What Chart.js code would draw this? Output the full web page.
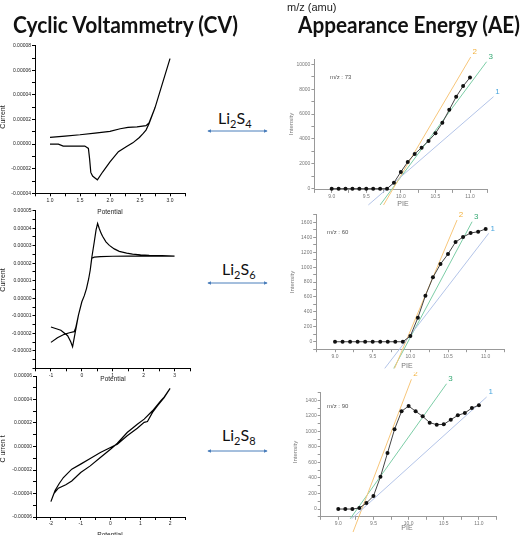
<!DOCTYPE html>
<html>
<head>
<meta charset="utf-8">
<script src="https://cdn.jsdelivr.net/npm/chart.js@4.4.0/dist/chart.umd.min.js"></script>
<style>
  body { margin: 0; background: #fff; }
  #page { position: relative; width: 525px; height: 535px; overflow: hidden; background: #fff;
          font-family: "Liberation Sans", Arial, sans-serif; }
  canvas { position: absolute; }
  .t { position: absolute; white-space: nowrap; line-height: 1; }
  .head { font-family: Lato, "Open Sans", sans-serif; font-weight: bold; font-size: 22px; color: #111;
          transform-origin: left top; }
  .li { font-family: Lato, "Open Sans", sans-serif; font-size: 16px; color: #111; }
  .li sub { font-size: 11px; vertical-align: -4px; line-height: 0; }
  .ax { font-size: 6.5px; color: #222; transform: translate(-50%, -50%); }
  .rot { transform: translate(-50%, -50%) rotate(-90deg); }
  .ae { color: #777; font-size: 6px; }
  .mz { font-size: 6px; color: #555; }
</style>
</head>
<body>
<div id="page">
  <canvas id="cv4"></canvas>
  <canvas id="cv6"></canvas>
  <canvas id="cv8"></canvas>
  <canvas id="ae73"></canvas>
  <canvas id="ae60"></canvas>
  <canvas id="ae90"></canvas>

  <div class="t head" id="h1" style="left:13px; top:14px;">Cyclic Voltammetry (CV)</div>
  <div class="t" style="left:287px; top:2px; font-size:11px; color:#222;">m/z (amu)</div>
  <div class="t head" id="h2" style="left:298px; top:14px;">Appearance Energy (AE)</div>

  <div class="t li" style="left:218px; top:110px;">Li<sub>2</sub>S<sub>4</sub></div>
  <div class="t li" style="left:222px; top:261px;">Li<sub>2</sub>S<sub>6</sub></div>
  <div class="t li" style="left:222px; top:427px;">Li<sub>2</sub>S<sub>8</sub></div>

  <svg style="position:absolute; left:0; top:0;" width="525" height="535">
    <defs>
      <marker id="ah" viewBox="0 0 6 6" refX="5" refY="3" markerWidth="4" markerHeight="4" orient="auto-start-reverse">
        <path d="M0,0 L6,3 L0,6 z" fill="#4a7ebb"></path>
      </marker>
    </defs>
    <line x1="208" y1="131" x2="267" y2="131" stroke="#4a7ebb" stroke-width="1" marker-start="url(#ah)" marker-end="url(#ah)"></line>
    <line x1="208" y1="283" x2="267" y2="283" stroke="#4a7ebb" stroke-width="1" marker-start="url(#ah)" marker-end="url(#ah)"></line>
    <line x1="208" y1="451" x2="267" y2="451" stroke="#4a7ebb" stroke-width="1" marker-start="url(#ah)" marker-end="url(#ah)"></line>
  </svg>

  <!-- axis titles -->
  <div class="t ax rot" style="left:2px; top:117px; font-size:7px;">Current</div>
  <div class="t ax" style="left:110px; top:212px;">Potential</div>
  <div class="t ax rot" style="left:2px; top:280px; font-size:7px;">Current</div>
  <div class="t ax" style="left:113px; top:379px;">Potential</div>
  <div class="t ax rot" style="left:2px; top:449px; font-size:7px;">C urren t</div>
  <div class="t ax" style="left:110px; top:535px;">Potential</div>

  <div class="t ax rot ae" style="left:291px; top:124px;">Intensity</div>
  <div class="t ax ae" style="left:403px; top:203px; font-size:7px;">PIE</div>
  <div class="t ax rot ae" style="left:292px; top:282px;">Intensity</div>
  <div class="t ax ae" style="left:407px; top:365px; font-size:7px;">PIE</div>
  <div class="t ax rot ae" style="left:295px; top:452px;">Intensity</div>
  <div class="t ax ae" style="left:407px; top:527px; font-size:7px;">PIE</div>

  <div class="t mz" style="left:330px; top:74px;">m/z : 73</div>
  <div class="t mz" style="left:327px; top:229px;">m/z : 60</div>
  <div class="t mz" style="left:327px; top:403px;">m/z : 90</div>
</div>

<script>
// ---- CV data (Potential / Current) ----
var cv4Potential = [1.00, 1.25, 1.50, 1.75, 2.00, 2.17, 2.30, 2.45, 2.60, 2.65, 2.75, 2.85, 3.00,
  2.85, 2.75, 2.65, 2.60, 2.55, 2.49, 2.38, 2.27, 2.14, 2.00, 1.88, 1.79, 1.75, 1.71, 1.68, 1.66,
  1.64, 1.58, 1.40, 1.22, 1.14, 1.00];
var cv4Current = [5.4e-6, 6.5e-6, 7.6e-6, 9.0e-6, 1.03e-5, 1.25e-5, 1.36e-5, 1.40e-5, 1.50e-5, 1.72e-5, 2.95e-5, 4.55e-5, 6.95e-5,
  4.55e-5, 2.95e-5, 1.65e-5, 1.14e-5, 8.5e-6, 5.4e-6, 1.0e-6, -2.2e-6, -6.2e-6, -1.44e-5, -2.25e-5, -2.9e-5, -2.75e-5, -2.6e-5, -2.3e-5, -1.2e-5,
  -3.5e-6, -1.6e-6, -1.6e-6, -1.6e-6, 0, 0];

var cv6Potential = [-1.00, -0.68, -0.46, -0.36, -0.30, -0.22, -0.11, 0.00, 0.08, 0.15, 0.22, 0.27, 0.32,
  0.40, 0.46, 0.51, 0.56, 0.62, 0.67, 0.78, 0.89, 1.05, 1.21, 1.45, 1.64, 1.90, 2.18, 2.60, 3.00,
  2.50, 2.00, 1.50, 1.00, 0.60, 0.40, 0.32, 0.27, 0.22, 0.15, 0.08, 0.00, -0.11, -0.20, -0.25,
  -0.40, -0.57, -0.79, -1.00];
var cv6Current = [-1.64e-5, -1.83e-5, -2.14e-5, -2.48e-5, -2.77e-5, -2.0e-5, -9.6e-6, -2.0e-6, 1.5e-6, 5.5e-6, 1.1e-5, 1.6e-5, 2.3e-5,
  3.2e-5, 3.9e-5, 4.27e-5, 4.0e-5, 3.72e-5, 3.54e-5, 3.22e-5, 3.02e-5, 2.82e-5, 2.68e-5, 2.58e-5, 2.52e-5, 2.48e-5, 2.45e-5, 2.43e-5, 2.41e-5,
  2.41e-5, 2.41e-5, 2.41e-5, 2.40e-5, 2.38e-5, 2.35e-5, 2.28e-5, 1.6e-5, 1.1e-5, 5.5e-6, 1.5e-6, -2.0e-6, -9.6e-6, -1.7e-5, -1.91e-5,
  -1.97e-5, -2.06e-5, -2.26e-5, -2.52e-5];

var cv8Potential = [-2.00, -1.86, -1.72, -1.58, -1.30, -1.00, -0.68, -0.34, 0.00, 0.23, 0.56, 0.90, 1.13, 1.24, 1.41, 1.58, 1.80, 2.00,
  1.80, 1.69, 1.41, 1.13, 0.90, 0.56, 0.23, 0.00, -0.34, -0.68, -1.00, -1.30, -1.50, -1.75, -1.90, -2.00];
var cv8Current = [-4.69e-5, -3.75e-5, -3.15e-5, -2.64e-5, -1.93e-5, -1.50e-5, -1.02e-5, -5.1e-6, -9e-7, 2.0e-6, 9.1e-6, 1.56e-5, 2.05e-5, 2.12e-5, 2.90e-5, 3.47e-5, 4.15e-5, 4.94e-5,
  4.20e-5, 3.90e-5, 3.04e-5, 2.33e-5, 1.90e-5, 1.19e-5, 2.8e-6, -2.3e-6, -9.4e-6, -1.65e-5, -2.22e-5, -2.93e-5, -3.25e-5, -3.55e-5, -4.00e-5, -4.69e-5];

// ---- AE data (PIE / Intensity) ----
var pie = [9.0, 9.1, 9.2, 9.3, 9.4, 9.5, 9.6, 9.7, 9.8, 9.9, 10.0, 10.1, 10.2, 10.3, 10.4, 10.5, 10.6, 10.7, 10.8, 10.9, 11.0];
var ae73 = [0, 0, 0, 0, 0, 0, 0, 0, 0, 480, 1350, 2150, 2790, 3300, 3840, 4450, 5300, 6340, 7390, 8250, 8940];
var ae60 = [0, 0, 0, 0, 0, 0, 0, 0, 0, 0, 76, 322, 617, 863, 1041, 1175, 1336, 1403, 1457, 1475, 1511];
var ae90 = [0, 0, 0, 13, 77, 167, 416, 721, 1026, 1258, 1326, 1258, 1193, 1112, 1086, 1090, 1150, 1206, 1236, 1300, 1335];

// fit lines 1, 2, 3 : start / end
var fitNames = ["1", "2", "3"];
var fit73X = [[9.53, 11.34], [9.75, 11.01], [9.70, 11.24]];
var fit73Y = [[-1311, 7398], [-1311, 10591], [-1311, 10213]];
var fit60X = [[9.66, 11.04], [9.79, 10.62], [9.78, 10.82]];
var fit60Y = [[-357, 1453], [-357, 1631], [-357, 1609]];
var fit90X = [[9.19, 11.11], [9.21, 10.04], [9.17, 10.54]];
var fit90Y = [[-125, 1442], [-296, 1670], [-125, 1613]];

var fitLineColors = ["#b3c4e8", "#f7c67a", "#7ccda6"];
var fitTextColors = ["#4aa6dd", "#f2b13d", "#36a974"];

function toPoints(xs, ys) {
  var pts = [];
  for (var i = 0; i < xs.length; i++) {
    pts.push({ x: xs[i], y: ys[i] });
  }
  return pts;
}

function onStep(v, step) {
  var r = v / step;
  return Math.abs(r - Math.round(r)) < 1e-6;
}

var fitLabelPlugin = {
  id: "fitLabels",
  afterDatasetsDraw: function (chart) {
    var ctx = chart.ctx;
    ctx.save();
    ctx.font = '8px "Liberation Sans"';
    ctx.textAlign = "center";
    ctx.textBaseline = "middle";
    chart.data.datasets.forEach(function (ds) {
      if (!ds.fitName) return;
      var p = ds.data[ds.data.length - 1];
      ctx.fillStyle = ds.labelColor;
      ctx.fillText(ds.fitName, chart.scales.x.getPixelForValue(p.x) + 4, chart.scales.y.getPixelForValue(p.y) - 5);
    });
    ctx.restore();
  }
};

// o.step = tick step, o.mark = spacing of the tick marks that are drawn
function axis(o, which, size) {
  var mark = o.mark || o.step;
  return {
    type: "linear",
    min: o.min,
    max: o.max,
    border: { display: true, color: o.color, width: 1 },
    grid: {
      drawOnChartArea: false,
      drawTicks: true,
      tickLength: 3,
      color: function (c) {
        if (!c.tick) return o.color;
        return onStep(c.tick.value, mark) ? o.color : "rgba(0,0,0,0)";
      }
    },
    ticks: {
      stepSize: o.step,
      autoSkip: false,
      maxRotation: 0,
      padding: 1,
      color: o.text,
      font: { family: "Liberation Sans", size: 5 },
      callback: o.label
    },
    afterFit: function (s) {
      if (which === "x") s.height = size;
      else s.width = size;
    }
  };
}

// box = canvas [left, top, w, h], area = plot [left, top, right, bottom]
function drawChart(id, box, area, datasets, xo, yo, withFits) {
  var cv = document.getElementById(id);
  cv.width = box[2];
  cv.height = box[3];
  cv.style.left = box[0] + "px";
  cv.style.top = box[1] + "px";
  return new Chart(cv, {
    type: "scatter",
    data: { datasets: datasets },
    options: {
      responsive: false,
      animation: false,
      events: [],
      layout: { padding: { left: 0, top: area[1] - box[1], right: box[0] + box[2] - area[2], bottom: 0 } },
      plugins: { legend: { display: false }, tooltip: { enabled: false } },
      scales: {
        x: axis(xo, "x", box[1] + box[3] - area[3]),
        y: axis(yo, "y", area[0] - box[0])
      }
    },
    plugins: withFits ? [fitLabelPlugin] : []
  });
}

function cvLine(xs, ys) {
  return [{ data: toPoints(xs, ys), showLine: true, borderColor: "#000", borderWidth: 1.2, pointRadius: 0, tension: 0, clip: false }];
}

function aeSets(ys, fx, fy) {
  var sets = [{
    data: toPoints(pie, ys), showLine: true, borderColor: "#444", borderWidth: 1,
    pointRadius: 2, pointBackgroundColor: "#111", pointBorderWidth: 0, clip: false
  }];
  for (var i = 0; i < fitNames.length; i++) {
    sets.push({
      data: toPoints(fx[i], fy[i]), showLine: true, borderColor: fitLineColors[i], borderWidth: 1,
      pointRadius: 0, clip: false, fitName: fitNames[i], labelColor: fitTextColors[i]
    });
  }
  return sets;
}

function cvLabel(step, lo, hi, digits) {
  return function (v) {
    if (!onStep(v, step) || v < lo - 1e-9 || v > hi + 1e-9) return "";
    return (Math.round(v * 1e6) / 1e6).toFixed(digits);
  };
}

// CV charts
drawChart("cv4", [0, 36, 200, 172], [35, 45.7, 185, 193.3], cvLine(cv4Potential, cv4Current),
  { min: 0.75, max: 3.25, step: 0.25, color: "#000", text: "#222", label: cvLabel(0.5, 1, 3, 1) },
  { min: -0.00004, max: 0.00008, step: 0.00001, color: "#000", text: "#222", label: cvLabel(0.00002, -0.00004, 0.00008, 5) });

drawChart("cv6", [0, 200, 205, 178], [35.5, 210.7, 190, 368.3], cvLine(cv6Potential, cv6Current),
  { min: -1.5, max: 3.5, step: 0.5, color: "#000", text: "#222", label: cvLabel(1, -1, 3, 0) },
  { min: -0.00004, max: 0.00005, step: 0.000005, color: "#000", text: "#222", label: cvLabel(0.00001, -0.00003, 0.00005, 5) });

drawChart("cv8", [0, 366, 200, 169], [36, 376, 185, 517], cvLine(cv8Potential, cv8Current),
  { min: -2.5, max: 2.5, step: 0.5, color: "#000", text: "#222", label: cvLabel(1, -2, 2, 0) },
  { min: -0.00006, max: 0.00006, step: 0.00001, color: "#000", text: "#222", label: cvLabel(0.00002, -0.00006, 0.00006, 5) });

// AE charts
function aeX() {
  return { min: 8.75, max: 11.25, step: 0.25, color: "#999", text: "#777", label: cvLabel(0.5, 9, 11, 1) };
}
function aeY(max, mark, labelStep) {
  return { min: -100, max: max, step: 100, mark: mark, color: "#999", text: "#777",
    label: function (v) { return onStep(v, labelStep) && v >= 0 ? String(Math.round(v)) : ""; } };
}

drawChart("ae73", [285, 40, 240, 170], [314.4, 59.4, 487.3, 189.9], aeSets(ae73, fit73X, fit73Y), aeX(), aeY(10400, 1000, 2000), true);
drawChart("ae60", [285, 205, 240, 170], [316.2, 214.9, 504.5, 349.2], aeSets(ae60, fit60X, fit60Y), aeX(), aeY(1700, 100, 200), true);
drawChart("ae90", [285, 372, 240, 163], [320.7, 392.5, 496.5, 516.8], aeSets(ae90, fit90X, fit90Y), aeX(), aeY(1500, 100, 200), true);

// squeeze the two headings to the width they take in the picture
function fitWidth(id, target) {
  var el = document.getElementById(id);
  var w = el.getBoundingClientRect().width;
  el.style.transform = "scaleX(" + (target / w) + ")";
}
fitWidth("h1", 225);
fitWidth("h2", 222);
</script>
</body>
</html>
